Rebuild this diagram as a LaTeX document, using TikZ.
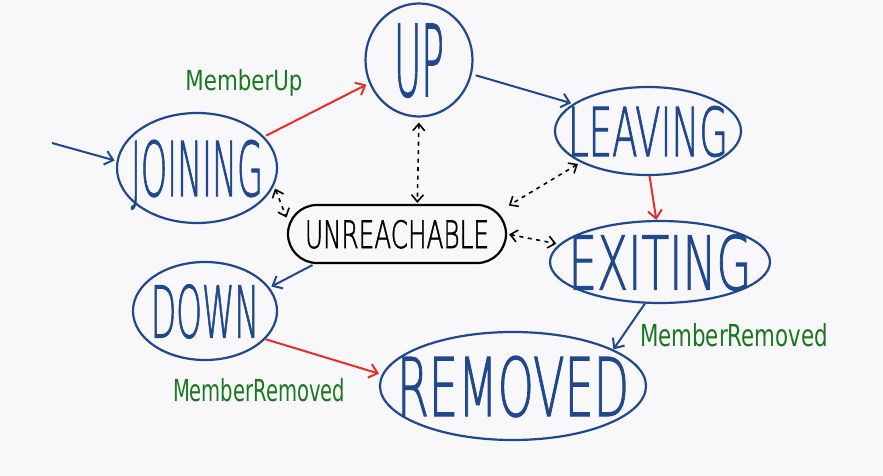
\documentclass[tikz,border=0pt]{standalone}
\usepackage{fontspec}
\setmainfont{DejaVu Sans ExtraLight}[AutoFakeBold=1.6]
\newfontfamily\notefont{DejaVu Sans Condensed}
\usetikzlibrary{shapes.geometric,arrows.meta}
\definecolor{penblue}{RGB}{32,72,140}
\definecolor{penred}{RGB}{232,45,40}
\definecolor{pengreen}{RGB}{25,120,30}
\definecolor{board}{RGB}{248,248,251}
% squeezed text that does not push the border out
\newcommand{\hand}[3]{\makebox[0pt]{\raisebox{-.5\height}[0pt][0pt]{\resizebox{#1pt}{#2pt}{#3}}}}

\begin{document}
\begin{tikzpicture}[x=1pt,y=-1pt,
        state/.style={ellipse,draw=penblue,text=penblue,line width=2.2pt,inner sep=0pt,font=\bfseries},
        blueflow/.style={draw=penblue,line width=2pt,-{Straight Barb[length=8pt,width=14pt]}},
        redflow/.style={draw=penred,line width=2pt,-{Straight Barb[length=8pt,width=14pt]}},
        maybe/.style={draw=black,line width=1.6pt,dash pattern=on 4pt off 4.5pt,
            {Straight Barb[length=7pt,width=12pt]}-{Straight Barb[length=7pt,width=12pt]}},
        event/.style={text=pengreen,inner sep=0pt,font=\notefont}]
        \fill[board] (0,0) rectangle (883,476);
        \useasboundingbox (0,0) rectangle (883,476);
        \begin{scope}[every node/.style={state}]
            \node (up) [minimum width=107pt, minimum height=113pt] at (419, 60) {\hand{50}{72}{UP}};
            \node (joining) [minimum width=160pt, minimum height=110pt] at (197, 168) {\hand{132}{56}{JOINING}};
            \node (leaving) [minimum width=186pt, minimum height=88pt] at (648, 131) {\hand{160}{50}{LEAVING}};
            \node (exiting) [minimum width=220pt, minimum height=82pt] at (660, 262) {\hand{183}{55}{EXITING}};
            \node (down) [minimum width=144pt, minimum height=98pt] at (205, 311) {\hand{108}{53}{DOWN}};
            \node (removed) [minimum width=266pt, minimum height=108pt] at (513, 386) {\hand{232}{60}{REMOVED}};
        \end{scope}
        \node (unreachable) [rectangle, rounded corners=29pt, draw=black, line width=2.2pt, font=\bfseries,
            minimum width=218pt, minimum height=58pt, inner sep=0pt] at (397, 234) {\hand{184}{28}{UNREACHABLE}};
        \coordinate (entry) at (52, 143);
        % member events
        \node (memberup) [event] at (244, 80) {\hand{117}{21}{MemberUp}};
        \node (removedright) [event] at (734, 335) {\hand{188}{23}{MemberRemoved}};
        \node (removedleft) [event] at (259, 390) {\hand{172}{23}{MemberRemoved}};
        % transitions
        \path (entry) edge[blueflow, shorten >=2pt] (joining.175);
        \path (joining.25) edge[redflow, shorten <=2pt, shorten >=3pt] (up.205);
        \path (up.-15) edge[blueflow, shorten <=4pt, shorten >=2pt] (leaving.160);
        \path (leaving.-88) edge[redflow] (exiting.95);
        \path (exiting.250) edge[blueflow] (removed.20);
        \path (down.-25) edge[redflow, shorten >=3pt] (removed.175);
        \path (unreachable.200) edge[blueflow, shorten <=2pt, shorten >=2pt] (down.20);
        % unreachable links
        \path (up.-90) edge[maybe, shorten <=5pt, shorten >=1pt] (unreachable.56);
        \path (joining.-13) edge[maybe, shorten <=3pt, shorten >=1pt] (unreachable.172);
        \path (leaving.205) edge[maybe, shorten <=3pt, shorten >=2pt] (unreachable.14);
        \path (unreachable.0) edge[maybe, shorten <=2pt, shorten >=3pt] (exiting.170);
    \end{tikzpicture}
\end{document}
